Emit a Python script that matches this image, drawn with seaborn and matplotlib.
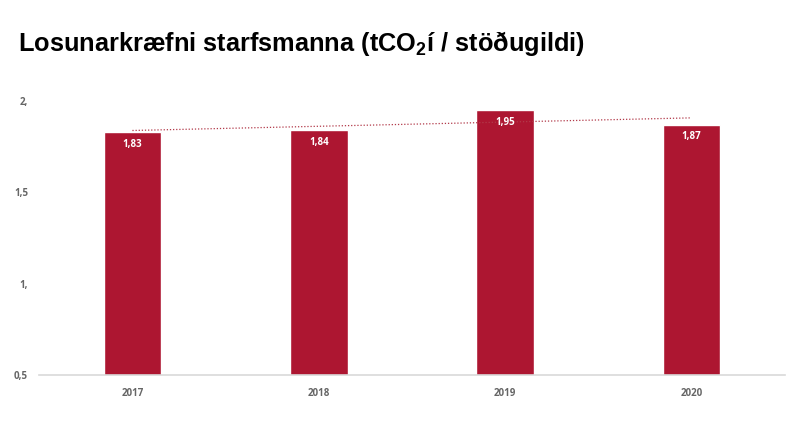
import matplotlib
matplotlib.use("Agg")
import matplotlib.pyplot as plt
import numpy as np
import pandas as pd
import seaborn as sns

# Data
years = ["2017", "2018", "2019", "2020"]
values = [1.83, 1.84, 1.95, 1.87]
value_labels = ["1,83", "1,84", "1,95", "1,87"]
y_ticks = [0.5, 1.0, 1.5, 2.0]
y_tick_labels = ["0,5", "1,", "1,5", "2,"]

bar_color = "#AD1631"

sns.set_theme(style="white")
plt.rcParams["font.family"] = ["Liberation Sans", "DejaVu Sans"]
plt.rcParams["mathtext.fontset"] = "custom"
plt.rcParams["mathtext.bf"] = "Liberation Sans:bold"
plt.rcParams["mathtext.rm"] = "Liberation Sans"

df = pd.DataFrame({"year": years, "value": values})

fig = plt.figure(figsize=(8, 4.22), dpi=100)
ax = fig.add_axes([0.049, 0.111, 0.932, 0.65])

sns.barplot(data=df, x="year", y="value", color=bar_color, width=0.31,
            saturation=1, ax=ax)

# Linear trendline (dotted)
xs = np.arange(len(years))
slope, intercept = np.polyfit(xs, values, 1)
ax.plot(xs, slope * xs + intercept, linestyle=(0, (1, 1.5)), color="#B23A4A",
        linewidth=0.9)

# Value labels inside bars
for i, (v, lbl) in enumerate(zip(values, value_labels)):
    ax.text(i, v - 0.066, lbl, ha="center", va="center", color="white",
            fontsize=7, fontweight="bold", family="Open Sans")

ax.set_ylim(0.5, 2.0)
ax.set_xlim(-0.5, 3.5)
ax.set_yticks(y_ticks)
ax.set_yticklabels(y_tick_labels)
ax.set_xlabel("")
ax.set_ylabel("")
ax.tick_params(axis="both", length=0, labelsize=7, labelcolor="#666666")
ax.tick_params(axis="x", pad=9)
ax.tick_params(axis="y", pad=8)
for lbl in ax.get_xticklabels() + ax.get_yticklabels():
    lbl.set_family("Open Sans")
    lbl.set_fontweight("bold")

for side in ["top", "right", "left"]:
    ax.spines[side].set_visible(False)
ax.spines["bottom"].set_color("#D9D9D9")
ax.spines["bottom"].set_linewidth(1.2)

fig.text(0.022, 0.898, r"Losunarkræfni starfsmanna (tCO$_\mathbf{2}$í / stöðugildi)",
         fontsize=18.3, fontweight="bold", color="black", va="center", ha="left")

fig.savefig("out.png", dpi=100, facecolor="white")
